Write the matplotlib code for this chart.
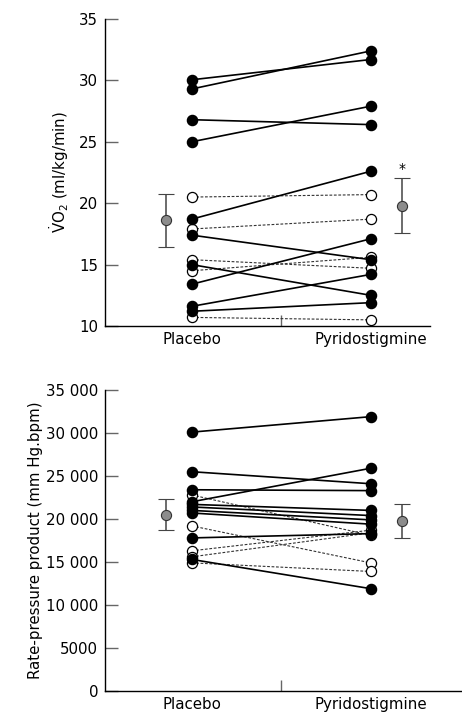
import matplotlib
matplotlib.use("Agg")
import matplotlib.pyplot as plt

plt.rcParams['font.family'] = ['DejaVu Sans']
plt.rcParams['mathtext.fontset'] = 'dejavusans'

# ---------------- data ----------------
groups = ["Placebo", "Pyridostigmine"]

# VO2 (ml/kg/min)
vo2_filled_placebo = [30.05, 29.3, 26.8, 25.0, 18.7, 17.4, 15.0, 13.4, 11.6, 11.2]
vo2_filled_pyr = [31.7, 32.4, 26.4, 27.9, 22.6, 15.4, 12.5, 17.1, 14.2, 11.9]
vo2_open_placebo = [20.5, 17.9, 15.4, 14.5, 10.7]
vo2_open_pyr = [20.7, 18.7, 14.7, 15.6, 10.5]
vo2_mean = [18.6, 19.8]
vo2_err = [2.15, 2.25]

# Rate-pressure product (mm Hg.bpm)
rpp_filled_placebo = [30100, 25500, 23400, 22000, 21700, 21400, 21000, 20700, 17800, 15300]
rpp_filled_pyr = [31900, 24100, 23300, 25900, 21000, 20400, 19900, 19400, 18300, 11900]
rpp_open_placebo = [22800, 19200, 16300, 15600, 14900]
rpp_open_pyr = [18100, 14900, 18700, 18400, 13900]
rpp_mean = [20500, 19750]
rpp_err = [1800, 2000]

vo2_ticks = [10, 15, 20, 25, 30, 35]
rpp_ticks = [0, 5000, 10000, 15000, 20000, 25000, 30000, 35000]
rpp_ticklabels = ["0", "5000", "10 000", "15 000", "20 000", "25 000", "30 000", "35 000"]

# ---------------- figure ----------------
W, H = 462, 724
fig = plt.figure(figsize=(W / 100, H / 100), dpi=100)

ax1 = fig.add_axes([105 / W, (H - 326) / H, (430 - 105) / W, 307 / H])
ax2 = fig.add_axes([105 / W, (H - 691) / H, (462 - 105) / W, 301 / H])

xp, xy = 1.0, 2.0
mean_x = [0.855, 2.175]
FS = 10.8

def draw_panel(ax, fp, fy, op, oy, mean, err):
    for a, b in zip(op, oy):
        ax.plot([xp, xy], [a, b], color='#333333', lw=0.8, ls=(0, (2.5, 1.5)), zorder=2)
    for a, b in zip(fp, fy):
        ax.plot([xp, xy], [a, b], color='black', lw=1.2, zorder=2)
    ax.plot([xp] * len(op) + [xy] * len(oy), list(op) + list(oy), 'o', ms=7.3,
            mfc='white', mec='black', mew=0.9, ls='none', zorder=3)
    ax.plot([xp] * len(fp) + [xy] * len(fy), list(fp) + list(fy), 'o', ms=7.3,
            mfc='black', mec='black', ls='none', zorder=4)
    ax.errorbar(mean_x, mean, yerr=err, fmt='o', ms=7.3, mfc='#8c8c8c', mec='#333333',
                mew=0.8, ecolor='#444444', elinewidth=1.1, capsize=5.5, capthick=1.1, zorder=4)
    for s in ['top', 'right']:
        ax.spines[s].set_visible(False)
    for s in ['left', 'bottom']:
        ax.spines[s].set_linewidth(1.0)
        ax.spines[s].set_color('black')
    ax.tick_params(axis='y', direction='in', length=9, width=1.0, color='#666666',
                   labelsize=FS, pad=5)
    ax.set_xticks([xp, xy])
    ax.set_xticklabels(groups, fontsize=FS)
    ax.tick_params(axis='x', which='major', length=0, pad=4)
    ax.set_xticks([1.5], minor=True)
    ax.tick_params(axis='x', which='minor', direction='in', length=8, width=1.0, color='#666666')

draw_panel(ax1, vo2_filled_placebo, vo2_filled_pyr, vo2_open_placebo, vo2_open_pyr, vo2_mean, vo2_err)
ax1.set_xlim(0.516, 2.331)
ax1.set_ylim(10, 35)
ax1.set_yticks(vo2_ticks)
ax1.set_ylabel(r'$\dot{\mathrm{V}}\mathrm{O}_2$ (ml/kg/min)', fontsize=FS, labelpad=6)
ax1.text(mean_x[1], 22.75, '*', ha='center', va='center', fontsize=10)

draw_panel(ax2, rpp_filled_placebo, rpp_filled_pyr, rpp_open_placebo, rpp_open_pyr, rpp_mean, rpp_err)
ax2.set_xlim(0.516, 2.51)
ax2.set_ylim(0, 35000)
ax2.set_yticks(rpp_ticks)
ax2.set_yticklabels(rpp_ticklabels)
ax2.set_ylabel('Rate-pressure product (mm Hg.bpm)', fontsize=FS, labelpad=2)

fig.savefig("out.png", dpi=100)
